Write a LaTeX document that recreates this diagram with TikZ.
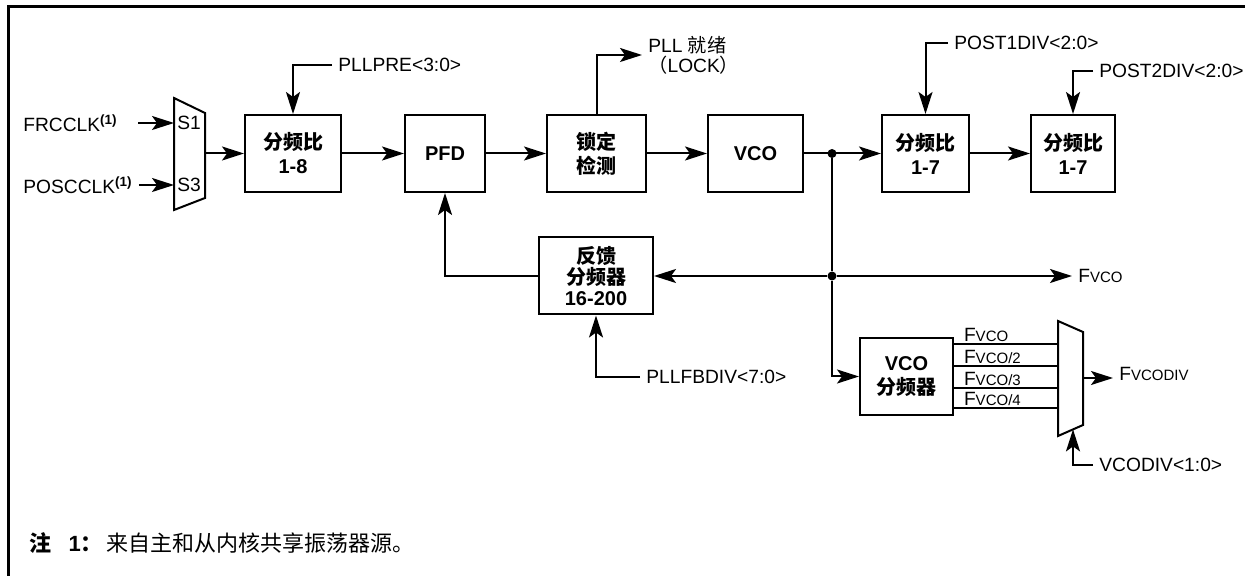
\documentclass[tikz,border=0pt]{standalone}
\usepackage{fontspec}
\setmainfont{Liberation Sans}
\newfontfamily\cjk{Noto Sans CJK SC}
\usetikzlibrary{arrows.meta}
\newcommand{\zh}[1]{{\cjk #1}}
\newcommand{\Fv}[1]{F{\fontsize{7.5}{9}\selectfont #1}}

\tikzset{
  blk/.style={draw, line width=1pt, minimum height=38.5pt, align=center,
    font=\bfseries\fontsize{10}{12}\selectfont, inner sep=1pt},
  lbl/.style={font=\fontsize{9.6}{11}\selectfont, inner sep=3pt},
  wire/.style={line width=1pt},
  dot/.style={circle, fill, inner sep=0pt, minimum size=4.5pt},
}

\begin{document}
\begin{tikzpicture}[x=0.5pt, y=-0.5pt, >={Stealth[length=11pt,width=7pt,inset=2.5pt]}]
  \useasboundingbox (0,0) rectangle (1245,576);
  \clip (0,0) rectangle (1245,576);
  % frame
  \draw[line width=1.5pt] (8,620) |- (1280,7);

  % input select
  \draw[wire] (174,98) -- (205,113) -- (205,198) -- (174,210) -- cycle;
  \coordinate (s1) at (174,123);
  \coordinate (s3) at (174,185);
  \coordinate (m1out) at (205,153.5);
  \node[lbl, anchor=west, inner sep=1.5pt] (s1l) at (s1) {S1};
  \node[lbl, anchor=west, inner sep=1.5pt] (s3l) at (s3) {S3};
  \node[lbl, anchor=west] (frc) at (17,123) {FRCCLK\textsuperscript{\bfseries(1)}};
  \node[lbl, anchor=west] (posc) at (17,185) {POSCCLK\textsuperscript{\bfseries(1)}};
  \draw[wire,->] ([xshift=7pt]frc.east) -- (s1);
  \draw[wire,->] (posc.east) -- (s3);

  % main chain
  \node[blk, minimum width=48pt] (div1) at (293,153.5) {\zh{分频比}\\1-8};
  \node[blk, minimum width=40pt] (pfd) at (445,153.5) {PFD};
  \node[blk, minimum width=49.5pt] (lock) at (596.5,153.5) {\zh{锁定}\\\zh{检测}};
  \node[blk, minimum width=47.5pt] (vco) at (755.5,153.5) {VCO};
  \node[blk, minimum width=43.5pt] (post1) at (925.5,153.5) {\zh{分频比}\\1-7};
  \node[blk, minimum width=42pt] (post2) at (1073,153.5) {\zh{分频比}\\1-7};
  \node[blk, minimum width=57pt] (fb) at (596,276)
    {\zh{反馈}\\[-1.5pt]\zh{分频器}\\[-1.5pt]16-200};
  \node[blk, minimum width=46.5pt] (vcodiv) at (906.5,376.5) {VCO\\\zh{分频器}};

  \node[dot] (j1) at (832,153.5) {};
  \node[dot] (j2) at (832,276) {};

  \draw[wire,->] (m1out) -- (div1.west);
  \draw[wire,->] (div1) -- (pfd);
  \draw[wire,->] (pfd) -- (lock);
  \draw[wire,->] (lock) -- (vco);
  \draw[wire,->] (vco.east) -- (post1.west);
  \draw[wire,->] (post1) -- (post2);
  \draw[wire] (j1) -- (j2);
  \draw[wire,->] (j2) -- (fb.east);
  \draw[wire,->] (fb.west) -| (pfd.south);
  \draw[wire,->] (j2) |- (vcodiv.west);

  % control inputs
  \node[lbl, anchor=west] (pllpre) at (332,65) {PLLPRE<3:0>};
  \draw[wire,->] (pllpre.west) -| (div1.north);
  \node[lbl, anchor=west, align=left, font=\fontsize{9.6}{8.5}\selectfont] (lockl) at (642,55)
    {PLL \zh{就绪}\\\zh{（}LOCK\zh{）}};
  \draw[wire,->] (lock.north) |- (lockl.west);
  \node[lbl, anchor=west] (post1l) at (948,43) {POST1DIV<2:0>};
  \draw[wire,->] (post1l.west) -| (post1.north);
  \node[lbl, anchor=west] (post2l) at (1093,71) {POST2DIV<2:0>};
  \draw[wire,->] (post2l.west) -| (post2.north);
  \node[lbl, anchor=west] (pllfb) at (640,377) {PLLFBDIV<7:0>};
  \draw[wire,->] (pllfb.west) -| (fb.south);
  \node[lbl, anchor=west] (fvco) at (1072,276) {\Fv{VCO}};
  \draw[wire,->] (j2) -- (fvco.west);

  % output select
  \draw[wire] (1058,321) -- (1083,332) -- (1083,425) -- (1058,436) -- cycle;
  \coordinate (m2out) at (1083,378);
  \coordinate (m2sel) at (1073,429.4);
  \draw[wire] (vcodiv.east |- 0,344) -- (1058,344)
    node[pos=0, anchor=south west, lbl, inner sep=0.5pt, xshift=4pt] (f1) {\Fv{VCO}};
  \draw[wire] (vcodiv.east |- 0,366) -- (1058,366)
    node[pos=0, anchor=south west, lbl, inner sep=0.5pt, xshift=4pt] (f2) {\Fv{VCO/2}};
  \draw[wire] (vcodiv.east |- 0,388) -- (1058,388)
    node[pos=0, anchor=south west, lbl, inner sep=0.5pt, xshift=4pt] (f3) {\Fv{VCO/3}};
  \draw[wire] (vcodiv.east |- 0,408) -- (1058,408)
    node[pos=0, anchor=south west, lbl, inner sep=0.5pt, xshift=4pt] (f4) {\Fv{VCO/4}};
  \node[lbl, anchor=west] (fvcodiv) at (1113,374) {\Fv{VCODIV}};
  \draw[wire,->] (m2out) -- (fvcodiv.west |- m2out);
  \node[lbl, anchor=west] (vcodivl) at (1093,465) {VCODIV<1:0>};
  \draw[wire,->] (vcodivl.west) -| (m2sel);

  % note
  \node[anchor=west, font=\fontsize{11}{13}\selectfont] (note) at (22,543)
    {\textbf{\zh{注}}\hspace{0.8em}\textbf{1\zh{：}}\hspace{2pt}\zh{来自主和从内核共享振荡器源。}};
\end{tikzpicture}
\end{document}
